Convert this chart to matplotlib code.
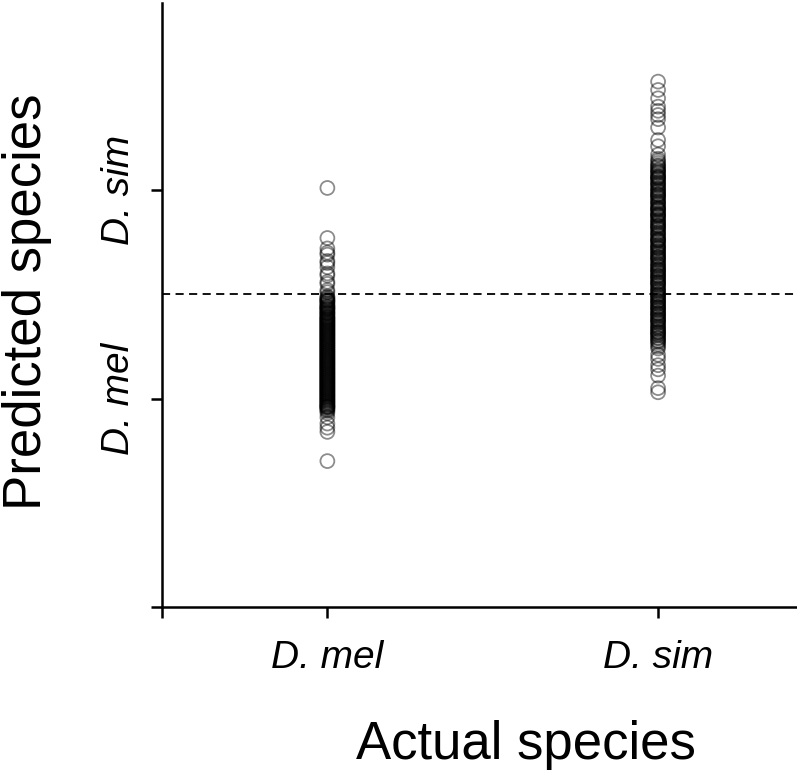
import matplotlib.pyplot as plt

plt.rcParams["font.family"] = ["Liberation Sans", "DejaVu Sans"]

# === DANE ===
categories = ["D. mel", "D. sim"]
cat_pos = [1, 2]
threshold = 1.5

mel_pred = [
    2.01, 1.77, 1.72, 1.70, 1.69, 1.66, 1.65, 1.63, 1.60, 1.59, 1.56, 1.55,
    1.52, 1.51, 1.49, 1.48, 1.47, 1.46, 1.45, 1.44, 1.43, 1.42, 1.41, 1.40,
    1.39, 1.38, 1.37, 1.36, 1.35, 1.34, 1.33, 1.32, 1.31, 1.30, 1.29, 1.28,
    1.27, 1.26, 1.25, 1.24, 1.23, 1.22, 1.21, 1.20, 1.19, 1.18, 1.17, 1.16,
    1.15, 1.14, 1.13, 1.12, 1.11, 1.10, 1.09, 1.08, 1.07, 1.06, 1.05, 1.04,
    1.03, 1.02, 1.01, 1.00, 0.99, 0.98, 0.97, 0.96, 0.95, 0.94, 0.93, 0.91,
    0.88, 0.86, 0.84, 0.70,
    1.43, 1.38, 1.33, 1.28, 1.25, 1.22, 1.18, 1.15, 1.12, 1.08, 1.05, 1.01,
    0.97, 1.35, 1.30, 1.20, 1.10, 1.00,
    1.485, 1.465, 1.445, 1.425, 1.405, 1.385, 1.365, 1.345, 1.325, 1.305,
    1.285, 1.265, 1.245, 1.225, 1.205, 1.185, 1.165, 1.145, 1.125, 1.105,
    1.085, 1.065, 1.045, 1.025, 1.005, 0.985, 0.965, 0.955, 0.945,
    1.41, 1.36, 1.31, 1.27, 1.23, 1.19, 1.14, 1.09, 1.04, 0.99, 0.96,
    1.475, 1.455, 1.435, 1.415, 1.395, 1.375, 1.355, 1.335, 1.315, 1.295,
    1.275, 1.255, 1.235, 1.215, 1.195, 1.175, 1.155, 1.135, 1.115, 1.095,
    1.075, 1.055, 1.035, 1.015, 0.995, 0.975,
    1.44, 1.39, 1.34, 1.29, 1.24, 1.21, 1.17, 1.13, 1.11, 1.07, 1.03, 0.98,
    1.32, 1.26, 1.16, 1.06, 1.02, 1.37, 1.47, 0.96,
]

sim_pred = [
    2.52, 2.48, 2.44, 2.40, 2.38, 2.36, 2.34, 2.30, 2.24, 2.21, 2.17, 2.15,
    2.13, 2.12, 2.10, 2.09, 2.07, 2.06, 2.04, 2.03, 2.01, 2.00, 1.98, 1.97,
    1.95, 1.94, 1.92, 1.91, 1.89, 1.88, 1.86, 1.85, 1.83, 1.82, 1.80, 1.79,
    1.77, 1.76, 1.74, 1.73, 1.71, 1.70, 1.68, 1.67, 1.65, 1.64, 1.62, 1.61,
    1.59, 1.58, 1.56, 1.55, 1.53, 1.52, 1.50, 1.49, 1.47, 1.46, 1.44, 1.43,
    1.41, 1.40, 1.38, 1.37, 1.35, 1.34, 1.32, 1.31, 1.29, 1.28, 1.26, 1.24,
    1.21, 1.19, 1.16, 1.14, 1.11, 1.05, 1.03,
    2.08, 2.02, 1.96, 1.90, 1.84, 1.78, 1.72, 1.66, 1.60, 1.54, 1.48, 1.42,
    1.36, 1.30, 1.93, 1.81, 1.69, 1.57,
    2.115, 2.085, 2.055, 2.025, 1.995, 1.965, 1.935, 1.905, 1.875, 1.845,
    1.815, 1.785, 1.755, 1.725, 1.695, 1.665, 1.635, 1.605, 1.575, 1.545,
    1.515, 1.485, 1.455, 1.425, 1.395, 1.365, 1.335, 1.305, 1.275,
    2.05, 1.99, 1.87, 1.75, 1.63, 1.51, 1.45, 1.39, 1.33, 1.27, 1.25,
    2.095, 2.065, 2.035, 2.005, 1.975, 1.945, 1.915, 1.885, 1.855, 1.825,
    1.795, 1.765, 1.735, 1.705, 1.675, 1.645, 1.615, 1.585, 1.555, 1.525,
    1.495, 1.465, 1.435, 1.405, 1.375, 1.345, 1.315,
    2.14, 2.06, 1.98, 1.91, 1.83, 1.76, 1.68, 1.62, 1.56, 1.50, 1.44, 1.38,
    1.32, 1.29, 1.88, 1.72, 1.59, 1.47, 1.41, 2.11,
]

# === WYKRES ===
fig = plt.figure(figsize=(7.97, 7.73), dpi=100)
ax = fig.add_axes([0.2033, 0.2147, 0.7967, 0.7814])

ax.scatter([cat_pos[0]] * len(mel_pred), mel_pred, s=100, facecolors="none",
           edgecolors="black", alpha=0.45, linewidths=1.3)
ax.scatter([cat_pos[1]] * len(sim_pred), sim_pred, s=100, facecolors="none",
           edgecolors="black", alpha=0.45, linewidths=1.3)

ax.axhline(threshold, color="black", linestyle=(0, (4.5, 3)), linewidth=1.3)

ax.set_xlim(0.5, 2.42)
ax.set_ylim(0, 2.897)

ax.set_xticks([0.5] + cat_pos)
ax.set_xticklabels([""] + categories, fontsize=28, style="italic")
ax.set_yticks([0] + cat_pos)
ax.set_yticklabels([""] + categories, fontsize=28, style="italic",
                   rotation=90, va="center")

ax.tick_params(axis="both", length=8, width=1.8, direction="out")
ax.tick_params(axis="x", pad=16)
ax.tick_params(axis="y", pad=10)

for side in ["top", "right"]:
    ax.spines[side].set_visible(False)
for side in ["left", "bottom"]:
    ax.spines[side].set_linewidth(1.8)

fig.text(0.034, 0.609, "Predicted species", fontsize=38, rotation=90,
         ha="center", va="center")
fig.text(0.66, 0.036, "Actual species", fontsize=38, ha="center", va="center")

fig.savefig("out.png", dpi=100)
